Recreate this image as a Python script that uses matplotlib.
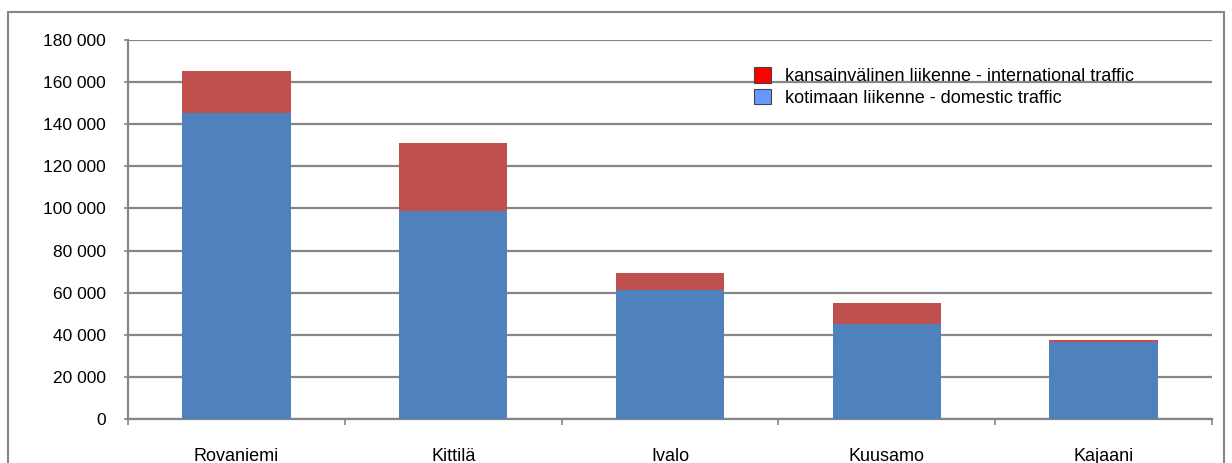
import matplotlib.pyplot as plt
import matplotlib.patches as mpatches
import numpy as np

plt.rcParams['font.family'] = ['Liberation Sans', 'DejaVu Sans']

airports = ["Rovaniemi", "Kittilä", "Ivalo", "Kuusamo", "Kajaani"]
domestic = [145200, 98800, 61400, 45200, 36600]
international = [19900, 32200, 7800, 9700, 1100]
yticks = [0, 20000, 40000, 60000, 80000, 100000, 120000, 140000, 160000, 180000]

W, H = 1232, 463
fig = plt.figure(figsize=(W / 100, H / 100), dpi=100)
ax = fig.add_axes([128 / W, (H - 419) / H, (1212 - 128) / W, (419 - 40) / H])

x = np.arange(len(airports))
ax.bar(x, domestic, width=0.5, color="#4F81BD", zorder=3)
ax.bar(x, international, width=0.5, bottom=domestic, color="#C0504D", zorder=3)

ax.set_xlim(-0.5, len(airports) - 0.5)
ax.set_ylim(0, 180000)
ax.set_yticks(yticks)
ax.set_yticklabels([f"{v:,}".replace(",", " ") for v in yticks])
ax.yaxis.grid(True, color="#868686", lw=1.6, zorder=0)
ax.set_axisbelow(True)

ax.set_xticks(x)
ax.set_xticklabels(airports)
ax.set_xticks(np.arange(len(airports) + 1) - 0.5, minor=True)
ax.tick_params(axis="x", which="major", length=0, pad=21, labelsize=13)
ax.tick_params(axis="x", which="minor", length=4, color="#868686", width=1.2)
ax.tick_params(axis="y", length=3, color="#868686", width=1.2, pad=13, labelsize=12.5)

for side in ["top", "right"]:
    ax.spines[side].set_visible(False)
for side in ["left", "bottom"]:
    ax.spines[side].set_color("#868686")
    ax.spines[side].set_linewidth(1.6)

# outer chart frame
frame = mpatches.Rectangle((8 / W, -0.1), (1224 - 8) / W, (H - 12) / H + 0.1,
                           transform=fig.transFigure, fill=False,
                           edgecolor="#868686", lw=1.5, clip_on=False)
fig.patches.append(frame)

handles = [
    mpatches.Patch(facecolor="#FF0000", edgecolor="#444444", lw=0.8,
                   label="kansainvälinen liikenne - international traffic"),
    mpatches.Patch(facecolor="#6699FF", edgecolor="#444444", lw=0.8,
                   label="kotimaan liikenne - domestic traffic"),
]
fig.legend(handles=handles, loc="upper left",
           bbox_to_anchor=(754 / W, (H - 67) / H), frameon=False,
           fontsize=13, handlelength=0.95, handleheight=0.95,
           handletextpad=0.75, labelspacing=0.2, borderpad=0, borderaxespad=0)

fig.savefig("out.png", dpi=100)
